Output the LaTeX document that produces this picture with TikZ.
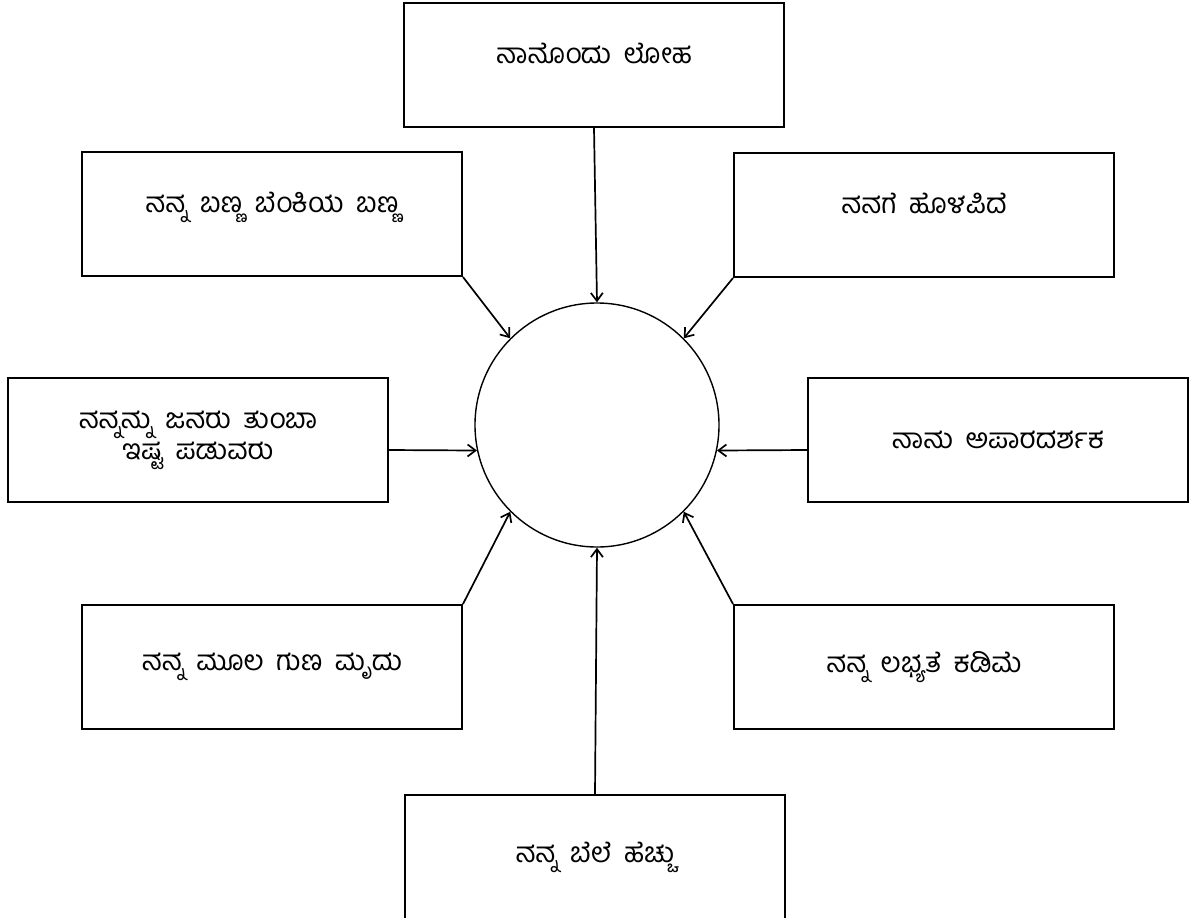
\documentclass[tikz,border=0pt]{standalone}
\usepackage{fontspec}
\newfontfamily\kannada[Script=Kannada,WordSpace=1.8]{Hind Mysuru}
\usetikzlibrary{arrows.meta}
\tikzset{
  factbox/.style={draw, line width=1pt, minimum width=190pt, minimum height=62pt,
    align=center, font=\kannada\fontsize{14}{15.5}\selectfont, inner sep=2pt},
  raised/.style={text depth=12pt},
  centre/.style={draw, circle, line width=0.7pt, minimum size=122pt, inner sep=0pt},
  link/.style={->, line width=0.85pt},
  >={Straight Barb[length=4pt,width=6pt]}
}
\begin{document}
\begin{tikzpicture}[x=0.5pt,y=-0.5pt]
\useasboundingbox (0,0) rectangle (1195,917);
\node[centre] (c) at (597,425) {};
\node[factbox,raised] (top) at (594,65) {ನಾನೊಂದು ಲೋಹ};
\node[factbox,raised] (tl) at (272,214) {ನನ್ನ ಬಣ್ಣ ಬೆಂಕಿಯ ಬಣ್ಣ};
\node[factbox,raised] (tr) at (924,215) {ನನಗೆ ಹೊಳಪಿದೆ};
\node[factbox] (ml) at (198,440) {ನನ್ನನ್ನು ಜನರು ತುಂಬಾ\\ಇಷ್ಟ ಪಡುವರು};
\node[factbox] (mr) at (998,440) {ನಾನು ಅಪಾರದರ್ಶಕ};
\node[factbox] (bl) at (272,667) {ನನ್ನ ಮೂಲ ಗುಣ ಮೃದು};
\node[factbox] (br) at (924,667) {ನನ್ನ ಲಭ್ಯತೆ ಕಡಿಮೆ};
\node[factbox] (bot) at (595,857) {ನನ್ನ ಬೆಲೆ ಹೆಚ್ಚು};
\draw[link] (top.south) -- (c.north);
\draw[link] (tl.south east) -- (c.north west);
\draw[link] (tr.south west) -- (c.north east);
\draw[link] ([yshift=-5pt]ml.east) -- (c.192);
\draw[link] ([yshift=-5pt]mr.west) -- (c.348);
\draw[link] (bl.north east) -- (c.south west);
\draw[link] (br.north west) -- (c.south east);
\draw[link] (bot.north) -- (c.south);
\end{tikzpicture}
\end{document}
